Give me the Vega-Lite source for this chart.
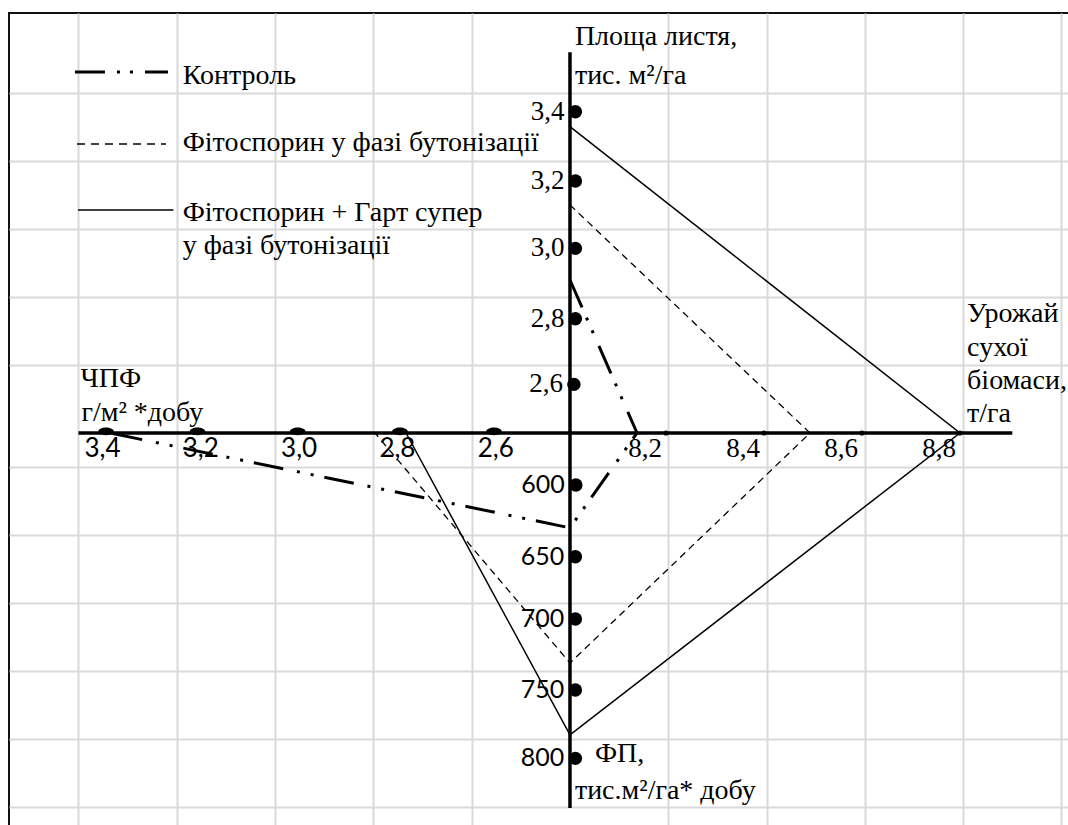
{
  "$schema": "https://vega.github.io/schema/vega-lite/v6.json",
  "width": 1062,
  "height": 815,
  "autosize": {"type": "none"},
  "padding": {"left": 9, "top": 13, "right": 0, "bottom": 0},
  "background": "white",
  "config": {
    "view": {"stroke": "#111111", "strokeWidth": 2}
  },
  "datasets": {
    "axes": [
      {"name": "vertical", "x": 0, "y": 11.2, "x2": 0, "y2": -11.03},
      {"name": "horizontal", "x": -5, "y": 0, "x2": 4.5, "y2": 0}
    ],
    "series": [
      {"series": "Контроль", "step": 1, "indicator": "Площа листя", "value": 2.91, "x": 0, "y": 4.5},
      {"series": "Контроль", "step": 2, "indicator": "Урожай", "value": 8.14, "x": 0.682, "y": 0},
      {"series": "Контроль", "step": 3, "indicator": "ФП", "value": 630, "x": 0, "y": -2.79},
      {"series": "Контроль", "step": 4, "indicator": "ЧПФ", "value": 3.37, "x": -4.68, "y": 0},
      {"series": "Фітоспорин у фазі бутонізації", "step": 1, "indicator": "Площа листя", "value": 3.13, "x": 0, "y": 6.71},
      {"series": "Фітоспорин у фазі бутонізації", "step": 2, "indicator": "Урожай", "value": 8.49, "x": 2.442, "y": 0},
      {"series": "Фітоспорин у фазі бутонізації", "step": 3, "indicator": "ФП", "value": 731, "x": 0, "y": -6.765},
      {"series": "Фітоспорин у фазі бутонізації", "step": 4, "indicator": "ЧПФ", "value": 2.85, "x": -1.984, "y": 0},
      {"series": "Фітоспорин + Гарт супер у фазі бутонізації", "step": 1, "indicator": "Площа листя", "value": 3.36, "x": 0, "y": 9.01},
      {"series": "Фітоспорин + Гарт супер у фазі бутонізації", "step": 2, "indicator": "Урожай", "value": 8.8, "x": 3.967, "y": 0},
      {"series": "Фітоспорин + Гарт супер у фазі бутонізації", "step": 3, "indicator": "ФП", "value": 783, "x": 0, "y": -8.88},
      {"series": "Фітоспорин + Гарт супер у фазі бутонізації", "step": 4, "indicator": "ЧПФ", "value": 2.79, "x": -1.668, "y": 0}
    ],
    "legendLines": [
      {"series": "Контроль", "x": -5.036, "x2": -4.09, "y": 10.62},
      {"series": "Фітоспорин у фазі бутонізації", "x": -5.015, "x2": -4.11, "y": 8.5},
      {"series": "Фітоспорин + Гарт супер у фазі бутонізації", "x": -5.005, "x2": -4.034, "y": 6.56}
    ],
    "vticks": [
      {"axis": "top", "label": "3,4", "x": 0.055, "y": 9.45},
      {"axis": "top", "label": "3,2", "x": 0.055, "y": 7.41},
      {"axis": "top", "label": "3,0", "x": 0.055, "y": 5.43},
      {"axis": "top", "label": "2,8", "x": 0.055, "y": 3.36},
      {"axis": "top", "label": "2,6", "x": 0.04, "y": 1.43},
      {"axis": "bottom", "label": "600", "x": 0.06, "y": -1.53},
      {"axis": "bottom", "label": "650", "x": 0.055, "y": -3.64},
      {"axis": "bottom", "label": "700", "x": 0.055, "y": -5.47},
      {"axis": "bottom", "label": "750", "x": 0.055, "y": -7.56},
      {"axis": "bottom", "label": "800", "x": 0.055, "y": -9.57}
    ],
    "rticks": [
      {"label": "8,2", "x": 0.977, "y": 0},
      {"label": "8,4", "x": 1.974, "y": 0},
      {"label": "8,6", "x": 2.97, "y": 0},
      {"label": "8,8", "x": 3.967, "y": 0}
    ],
    "lticks": [
      {"label": "3,4", "x": -4.72, "y": 0.05},
      {"label": "3,2", "x": -3.79, "y": 0.05},
      {"label": "3,0", "x": -2.77, "y": 0.05},
      {"label": "2,8", "x": -1.73, "y": 0.05},
      {"label": "2,6", "x": -0.773, "y": 0.05}
    ],
    "llabels": [
      {"label": "3,4", "x": -5, "y": 0},
      {"label": "3,2", "x": -4, "y": 0},
      {"label": "3,0", "x": -3, "y": 0},
      {"label": "2,8", "x": -2, "y": 0},
      {"label": "2,6", "x": -1, "y": 0}
    ],
    "titles": [
      {"label": "Площа листя,", "x": 0.05, "y": 11.65},
      {"label": "тис. м²/га", "x": 0.05, "y": 10.5},
      {"label": "Урожай", "x": 4.04, "y": 3.5},
      {"label": "сухої", "x": 4.04, "y": 2.5},
      {"label": "біомаси,", "x": 4.04, "y": 1.53},
      {"label": "т/га", "x": 4.04, "y": 0.56},
      {"label": "ЧПФ", "x": -4.98, "y": 1.6},
      {"label": "г/м² *добу", "x": -4.97, "y": 0.6},
      {"label": "ФП,", "x": 0.254, "y": -9.44},
      {"label": "тис.м²/га* добу", "x": 0.05, "y": -10.53},
      {"label": "Контроль", "x": -3.94, "y": 10.5},
      {"label": "Фітоспорин у фазі бутонізації", "x": -3.94, "y": 8.53},
      {"label": "Фітоспорин + Гарт супер", "x": -3.94, "y": 6.47},
      {"label": "у фазі бутонізації", "x": -3.94, "y": 5.5}
    ]
  },
  "layer": [
    {
      "data": {"name": "axes"},
      "mark": {"type": "rule", "color": "#000000", "strokeWidth": 3.5},
      "encoding": {
        "x": {
          "field": "x", "type": "quantitative",
          "scale": {"domain": [-5.707, 5.097], "nice": false, "zero": false},
          "axis": {"values": [-5, -4, -3, -2, -1, 1, 2, 3, 4, 5], "grid": true, "gridColor": "#d9d9d9", "gridWidth": 2, "labels": false, "ticks": false, "domain": false, "title": null}
        },
        "y": {
          "field": "y", "type": "quantitative",
          "scale": {"domain": [-11.618, 12.353], "nice": false, "zero": false},
          "axis": {"values": [-11, -10, -9, -8, -7, -6, -5, -4, -3, -2, -1, 1, 2, 3, 4, 5, 6, 7, 8, 9, 10, 11.2], "grid": true, "gridColor": "#d9d9d9", "gridWidth": 2, "labels": false, "ticks": false, "domain": false, "title": null}
        },
        "x2": {"field": "x2"}, "y2": {"field": "y2"}
      }
    },
    {
      "data": {"name": "series"},
      "transform": [{"filter": "datum.series === 'Контроль'"}],
      "mark": {"type": "line", "color": "#000000", "strokeWidth": 3, "strokeDash": [30, 11, 3, 11, 3, 14]},
      "encoding": {"x": {"field": "x", "type": "quantitative"}, "y": {"field": "y", "type": "quantitative"}, "order": {"field": "step", "type": "quantitative"}}
    },
    {
      "data": {"name": "series"},
      "transform": [{"filter": "datum.series === 'Фітоспорин у фазі бутонізації'"}],
      "mark": {"type": "line", "color": "#000000", "strokeWidth": 1.3, "strokeDash": [7, 5]},
      "encoding": {"x": {"field": "x", "type": "quantitative"}, "y": {"field": "y", "type": "quantitative"}, "order": {"field": "step", "type": "quantitative"}}
    },
    {
      "data": {"name": "series"},
      "transform": [{"filter": "datum.series === 'Фітоспорин + Гарт супер у фазі бутонізації'"}],
      "mark": {"type": "line", "color": "#000000", "strokeWidth": 1.5},
      "encoding": {"x": {"field": "x", "type": "quantitative"}, "y": {"field": "y", "type": "quantitative"}, "order": {"field": "step", "type": "quantitative"}}
    },
    {
      "data": {"name": "legendLines"},
      "transform": [{"filter": "datum.series === 'Контроль'"}],
      "mark": {"type": "rule", "color": "#000000", "strokeWidth": 3, "strokeDash": [30, 12, 3, 10, 3, 12]},
      "encoding": {"x": {"field": "x", "type": "quantitative"}, "y": {"field": "y", "type": "quantitative"}, "x2": {"field": "x2"}}
    },
    {
      "data": {"name": "legendLines"},
      "transform": [{"filter": "datum.series === 'Фітоспорин у фазі бутонізації'"}],
      "mark": {"type": "rule", "color": "#000000", "strokeWidth": 1.3, "strokeDash": [8, 6]},
      "encoding": {"x": {"field": "x", "type": "quantitative"}, "y": {"field": "y", "type": "quantitative"}, "x2": {"field": "x2"}}
    },
    {
      "data": {"name": "legendLines"},
      "transform": [{"filter": "datum.series === 'Фітоспорин + Гарт супер у фазі бутонізації'"}],
      "mark": {"type": "rule", "color": "#000000", "strokeWidth": 1.5},
      "encoding": {"x": {"field": "x", "type": "quantitative"}, "y": {"field": "y", "type": "quantitative"}, "x2": {"field": "x2"}}
    },
    {
      "data": {"name": "vticks"},
      "mark": {"type": "point", "shape": "circle", "filled": true, "color": "#000000", "size": 180, "opacity": 1},
      "encoding": {"x": {"field": "x", "type": "quantitative"}, "y": {"field": "y", "type": "quantitative"}}
    },
    {
      "data": {"name": "rticks"},
      "mark": {"type": "point", "shape": "circle", "filled": true, "color": "#000000", "size": 26, "opacity": 1},
      "encoding": {"x": {"field": "x", "type": "quantitative"}, "y": {"field": "y", "type": "quantitative"}}
    },
    {
      "data": {"name": "lticks"},
      "mark": {"type": "point", "shape": "M -1 0 A 1 0.5 0 1 1 1 0 A 1 0.5 0 1 1 -1 0 Z", "filled": true, "color": "#000000", "size": 240, "opacity": 1},
      "encoding": {"x": {"field": "x", "type": "quantitative"}, "y": {"field": "y", "type": "quantitative"}}
    },
    {
      "data": {"name": "vticks"},
      "transform": [{"filter": "datum.axis === 'top'"}],
      "mark": {"type": "text", "align": "right", "baseline": "middle", "dx": -11, "font": "Liberation Serif", "fontSize": 27, "color": "#000000"},
      "encoding": {"x": {"field": "x", "type": "quantitative"}, "y": {"field": "y", "type": "quantitative"}, "text": {"field": "label"}}
    },
    {
      "data": {"name": "vticks"},
      "transform": [{"filter": "datum.axis === 'bottom'"}],
      "mark": {"type": "text", "align": "right", "baseline": "middle", "dx": -11, "font": "Lato", "fontSize": 25, "color": "#000000"},
      "encoding": {"x": {"field": "x", "type": "quantitative"}, "y": {"field": "y", "type": "quantitative"}, "text": {"field": "label"}}
    },
    {
      "data": {"name": "rticks"},
      "mark": {"type": "text", "align": "right", "baseline": "alphabetic", "dx": -4, "dy": 24, "font": "Liberation Serif", "fontSize": 27, "color": "#000000"},
      "encoding": {"x": {"field": "x", "type": "quantitative"}, "y": {"field": "y", "type": "quantitative"}, "text": {"field": "label"}}
    },
    {
      "data": {"name": "llabels"},
      "mark": {"type": "text", "align": "left", "baseline": "alphabetic", "dx": 6, "dy": 24, "font": "Lato", "fontSize": 26, "color": "#000000"},
      "encoding": {"x": {"field": "x", "type": "quantitative"}, "y": {"field": "y", "type": "quantitative"}, "text": {"field": "label"}}
    },
    {
      "data": {"name": "titles"},
      "mark": {"type": "text", "align": "left", "baseline": "middle", "font": "Liberation Serif", "fontSize": 28, "color": "#000000"},
      "encoding": {"x": {"field": "x", "type": "quantitative"}, "y": {"field": "y", "type": "quantitative"}, "text": {"field": "label"}}
    }
  ]
}
